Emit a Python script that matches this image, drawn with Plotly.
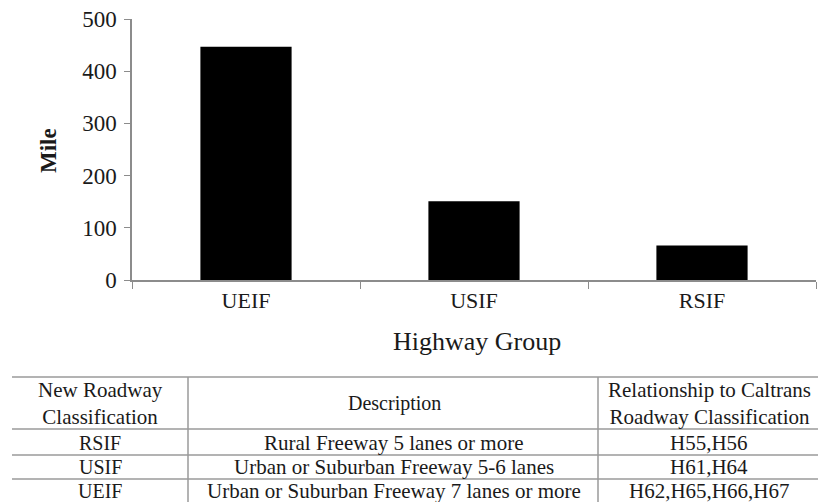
import plotly.graph_objects as go

# ---- data ----
categories = ["UEIF", "USIF", "RSIF"]
miles = [447, 151, 66]
y_ticks = [0, 100, 200, 300, 400, 500]

table_headers = ["New Roadway<br>Classification", "Description",
                 "Relationship to Caltrans<br>Roadway Classification"]
table_class = ["RSIF", "USIF", "UEIF"]
table_desc = ["Rural Freeway 5 lanes or more",
              "Urban or Suburban Freeway 5-6 lanes",
              "Urban or Suburban Freeway 7 lanes or more"]
table_caltrans = ["H55,H56", "H61,H64", "H62,H65,H66,H67"]

W, H = 820, 502
FONT = "Liberation Serif"
TXT = "#1a1a1a"
AXIS_COLOR = "#8c8c8c"


def px_x(x):
    return x / W


def px_y(y):
    return 1 - y / H


fig = go.Figure()
fig.add_trace(go.Bar(x=categories, y=miles, marker=dict(color="black", line=dict(width=0)),
                     showlegend=False))

fig.update_layout(
    width=W, height=H,
    margin=dict(l=0, r=0, t=0, b=0, autoexpand=False),
    paper_bgcolor="white", plot_bgcolor="white",
    bargap=0.6,
    font=dict(family=FONT, color=TXT),
    xaxis=dict(
        domain=[px_x(132), px_x(816)],
        automargin=False,
        showline=True, linecolor=AXIS_COLOR, linewidth=1.5,
        ticks="outside", tickson="boundaries", ticklen=7, tickcolor=AXIS_COLOR,
        tickfont=dict(size=22, family=FONT, color=TXT),
        showgrid=False, zeroline=False,
        anchor="y",
    ),
    yaxis=dict(
        domain=[px_y(280), px_y(19)],
        automargin=False,
        range=[0, 500],
        tickvals=y_ticks,
        showline=True, linecolor=AXIS_COLOR, linewidth=1.5,
        ticks="outside", ticklen=6, tickcolor=AXIS_COLOR,
        ticklabelstandoff=3,
        tickfont=dict(size=23, family=FONT, color=TXT),
        showgrid=False, zeroline=False,
        anchor="x",
    ),
)

annotations = []
shapes = []

# axis titles
annotations.append(dict(text="Highway Group", x=px_x(477), y=px_y(341), xref="paper", yref="paper",
                        showarrow=False, font=dict(size=26, family=FONT, color=TXT),
                        xanchor="center", yanchor="middle"))
annotations.append(dict(text="<b>Mile</b>", x=px_x(49), y=px_y(151), xref="paper", yref="paper",
                        showarrow=False, textangle=-90, font=dict(size=23, family=FONT, color=TXT),
                        xanchor="center", yanchor="middle"))

# ---- table ----
col_edges = [12, 188, 598, 818]
row_lines = [377, 429, 455, 479, 502]
col_centers = [100, 394, 709]
header_center = 403
row_centers = [443, 467, 491]
HFONT = dict(size=21, family=FONT, color=TXT)
BODY_SIZES = [20, 21, 21]
LINE = dict(color="#9a9a9a", width=1.5)

for yl in row_lines[:-1]:
    shapes.append(dict(type="line", xref="paper", yref="paper",
                       x0=px_x(col_edges[0]), x1=px_x(col_edges[-1]),
                       y0=px_y(yl), y1=px_y(yl), line=LINE))
for xv in col_edges[1:-1]:
    shapes.append(dict(type="line", xref="paper", yref="paper",
                       x0=px_x(xv), x1=px_x(xv),
                       y0=px_y(row_lines[0]), y1=px_y(row_lines[-1]), line=LINE))

for ci, htxt in enumerate(table_headers):
    annotations.append(dict(text=htxt, x=px_x(col_centers[ci]), y=px_y(header_center),
                            xref="paper", yref="paper", showarrow=False,
                            font=dict(HFONT, size=20) if ci == 1 else HFONT,
                            xanchor="center", yanchor="middle", align="center"))

for ri in range(len(table_class)):
    for ci, col in enumerate([table_class, table_desc, table_caltrans]):
        annotations.append(dict(text=col[ri], x=px_x(col_centers[ci]), y=px_y(row_centers[ri]),
                                xref="paper", yref="paper", showarrow=False,
                                font=dict(size=BODY_SIZES[ci], family=FONT, color=TXT),
                                xanchor="center", yanchor="middle"))

fig.update_layout(annotations=annotations, shapes=shapes)

fig.write_html(
    "out.html",
    config={"displayModeBar": False},
    post_script="document.body.style.margin='0';document.body.style.overflow='hidden';",
)
